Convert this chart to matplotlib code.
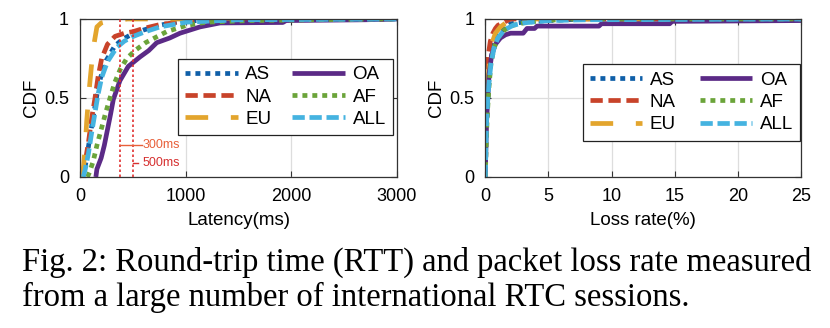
import matplotlib
matplotlib.use("Agg")
import matplotlib.pyplot as plt

# ---------------- data ----------------
series = ["AS", "NA", "EU", "OA", "AF", "ALL"]

lat_AS_x = [25, 45, 70, 100, 130, 160, 195, 250, 330, 400, 480, 600, 750, 950, 1300, 3000]
lat_AS_y = [0, 0.05, 0.15, 0.28, 0.4, 0.52, 0.63, 0.74, 0.83, 0.87, 0.9, 0.93, 0.96, 0.985, 0.995, 1.0]
lat_NA_x = [15, 30, 50, 80, 110, 142, 170, 205, 260, 331, 420, 503, 600, 757, 1000, 1500, 3000]
lat_NA_y = [0, 0.04, 0.1, 0.22, 0.37, 0.5, 0.63, 0.75, 0.84, 0.89, 0.91, 0.92, 0.94, 0.965, 0.985, 0.995, 1.0]
lat_EU_x = [10, 25, 33, 50, 63, 80, 95, 115, 137, 160, 200, 260, 350, 450, 3000]
lat_EU_y = [0, 0.02, 0.065, 0.2, 0.35, 0.5, 0.61, 0.75, 0.86, 0.95, 0.975, 0.985, 0.99, 1.0, 1.0]
lat_OA_x = [150, 160, 200, 230, 260, 290, 315, 378, 457, 568, 650, 726, 850, 946, 1136, 1325, 1920, 1950, 2700, 3000]
lat_OA_y = [0, 0.05, 0.12, 0.2, 0.3, 0.4, 0.49, 0.61, 0.7, 0.76, 0.8, 0.85, 0.88, 0.91, 0.95, 0.975, 0.978, 0.99, 0.995, 1.0]
lat_AF_x = [70, 90, 125, 160, 200, 240, 284, 330, 380, 442, 520, 620, 820, 1010, 1200, 1600, 2800, 3000]
lat_AF_y = [0, 0.03, 0.1, 0.2, 0.3, 0.4, 0.5, 0.6, 0.68, 0.75, 0.8, 0.85, 0.92, 0.96, 0.98, 0.99, 1.0, 1.0]
lat_ALL_x = [30, 50, 80, 110, 140, 170, 205, 260, 347, 420, 505, 620, 757, 1010, 1500, 3000]
lat_ALL_y = [0, 0.05, 0.15, 0.28, 0.4, 0.52, 0.63, 0.73, 0.82, 0.86, 0.89, 0.92, 0.95, 0.98, 0.995, 1.0]

loss_AS_x = [0, 0.05, 0.1, 0.2, 0.3, 0.45, 0.7, 1.0, 1.5, 2.0, 3.0, 5.0, 8.0, 25]
loss_AS_y = [0, 0.2, 0.35, 0.5, 0.62, 0.75, 0.84, 0.9, 0.94, 0.97, 0.98, 0.99, 1.0, 1.0]
loss_NA_x = [0, 0.03, 0.08, 0.15, 0.25, 0.4, 0.6, 0.8, 1.0, 1.5, 2.0, 25]
loss_NA_y = [0, 0.3, 0.5, 0.65, 0.78, 0.86, 0.91, 0.94, 0.96, 0.98, 1.0, 1.0]
loss_EU_x = [0, 0.05, 0.12, 0.2, 0.35, 0.5, 0.8, 1.2, 1.7, 2.5, 25]
loss_EU_y = [0, 0.25, 0.45, 0.6, 0.75, 0.84, 0.91, 0.95, 0.98, 1.0, 1.0]
loss_OA_x = [0, 0.05, 0.1, 0.2, 0.3, 0.5, 0.8, 1.2, 1.6, 2.0, 3.0, 3.3, 3.9, 4.1, 9.0, 9.2, 14.6, 14.8, 25]
loss_OA_y = [0, 0.2, 0.35, 0.5, 0.65, 0.77, 0.84, 0.88, 0.9, 0.91, 0.91, 0.94, 0.94, 0.955, 0.955, 0.97, 0.97, 0.985, 0.99]
loss_AF_x = [0, 0.05, 0.12, 0.2, 0.3, 0.45, 0.7, 1.0, 1.5, 2.2, 3.0, 4.5, 7, 25]
loss_AF_y = [0, 0.15, 0.32, 0.45, 0.58, 0.72, 0.82, 0.88, 0.93, 0.96, 0.975, 0.99, 1.0, 1.0]
loss_ALL_x = [0, 0.05, 0.1, 0.2, 0.3, 0.45, 0.7, 1.0, 1.5, 2.2, 3.0, 5.0, 8.0, 25]
loss_ALL_y = [0, 0.2, 0.35, 0.5, 0.6, 0.72, 0.82, 0.88, 0.93, 0.96, 0.975, 0.99, 0.995, 1.0]

threshold_ms = [378, 505]
threshold_labels = ["300ms", "500ms"]

lat_ticks = [0, 1000, 2000, 3000]
loss_ticks = [0, 5, 10, 15, 20, 25]
cdf_ticks = [0, 0.5, 1]
cdf_ticklabels = ["0", "0.5", "1"]

caption = ["Fig. 2: Round-trip time (RTT) and packet loss rate measured",
           "from a large number of international RTC sessions."]

# ---------------- style ----------------
colors = {"AS": "#0F5FA8", "NA": "#C8432A", "EU": "#E3A52D",
          "OA": "#5B2A86", "AF": "#6BA43A", "ALL": "#45B3E0"}
styles = {"AS": (0, (1.05, 1.05)), "NA": (0, (2.6, 1.2)), "EU": (0, (4.8, 4.8)),
          "OA": "-", "AF": (0, (1.05, 1.05)), "ALL": (0, (2.6, 1.0))}

plt.rcParams['font.family'] = ['Liberation Sans', 'DejaVu Sans']

fig = plt.figure(figsize=(8.3, 3.28), dpi=100)
ax1 = fig.add_axes([0.0964, 0.4604, 0.3819, 0.4817])
ax2 = fig.add_axes([0.5847, 0.4604, 0.3804, 0.4817])

lat = {"AS": (lat_AS_x, lat_AS_y), "NA": (lat_NA_x, lat_NA_y), "EU": (lat_EU_x, lat_EU_y),
       "OA": (lat_OA_x, lat_OA_y), "AF": (lat_AF_x, lat_AF_y), "ALL": (lat_ALL_x, lat_ALL_y)}
loss = {"AS": (loss_AS_x, loss_AS_y), "NA": (loss_NA_x, loss_NA_y), "EU": (loss_EU_x, loss_EU_y),
        "OA": (loss_OA_x, loss_OA_y), "AF": (loss_AF_x, loss_AF_y), "ALL": (loss_ALL_x, loss_ALL_y)}

for ax, data, xlim, ticks, xlabel, bbox in [
        (ax1, lat, (0, 3000), lat_ticks, "Latency(ms)", (0.309, 0.253, 0.678, 0.506)),
        (ax2, loss, (0, 25), loss_ticks, "Loss rate(%)", (0.309, 0.215, 0.688, 0.513))]:
    for s in series:
        x, y = data[s]
        ax.plot(x, y, color=colors[s], linestyle=styles[s], lw=3.4, label=s,
                solid_capstyle='butt', dash_capstyle='butt')
    ax.set_xlim(*xlim)
    ax.set_ylim(0, 1)
    ax.set_xticks(ticks)
    ax.set_yticks(cdf_ticks)
    ax.set_yticklabels(cdf_ticklabels)
    ax.grid(True, color="#DDDDDD", lw=0.9)
    ax.set_axisbelow(True)
    ax.tick_params(direction='in', top=True, right=True, labelsize=13,
                   color="#333333", length=4, pad=8)
    for sp in ax.spines.values():
        sp.set_color("#333333")
        sp.set_linewidth(0.9)
    ax.set_xlabel(xlabel, fontsize=13.5, labelpad=5)
    ax.set_ylabel("CDF", fontsize=13.5, labelpad=3)
    leg = ax.legend(ncol=2, loc='center', bbox_to_anchor=bbox, mode='expand',
                    fontsize=13.5, handlelength=2.8, handletextpad=0.4,
                    columnspacing=0.5, labelspacing=0.28, borderpad=0.38,
                    fancybox=False, framealpha=1, edgecolor="#222222",
                    borderaxespad=0)
    leg.get_frame().set_linewidth(0.9)

# threshold markers on latency plot
for xv in threshold_ms:
    ax1.plot([xv, xv], [0, 1], color="#E03030", lw=1.2, linestyle=(0, (1.5, 1.5)), zorder=5)
ax1.plot([threshold_ms[0], 584], [0.2, 0.2], color="#E8603A", lw=1.0, zorder=6)
ax1.plot([threshold_ms[1], 545], [0.09, 0.09], color="#D63030", lw=1.0, zorder=6)
ax1.text(592, 0.2, threshold_labels[0], color="#E8603A", fontsize=9, va='center', ha='left')
ax1.text(592, 0.09, threshold_labels[1], color="#D63030", fontsize=9, va='center', ha='left')

fig.text(22/830, 1 - 262/328, caption[0], family='Liberation Serif', fontsize=23.5,
         va='center', ha='left')
fig.text(22/830, 1 - 297/328, caption[1], family='Liberation Serif', fontsize=23.5,
         va='center', ha='left')

fig.savefig("out.png", dpi=100)
